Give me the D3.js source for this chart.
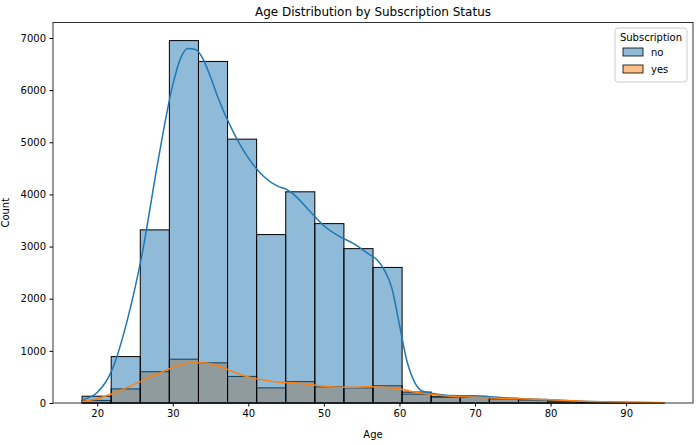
<!DOCTYPE html>
<html><head><meta charset="utf-8">
<script src="https://cdn.jsdelivr.net/npm/d3@7"></script>
<style>body{margin:0;background:#fff;font-family:"DejaVu Sans",sans-serif;}</style>
</head><body><svg id="c" width="700" height="445"></svg>
<script>
const binStart = 18, binEnd = 95, nBins = 20;
const countsNo  = [130, 890, 3320, 6950, 6550, 5060, 3230, 4050, 3440, 2960, 2600, 210, 130, 110, 80, 60, 40, 10, 5, 3];
const countsYes = [50, 270, 600, 840, 770, 510, 290, 410, 310, 290, 330, 170, 110, 110, 90, 70, 40, 10, 5, 3];
const kdeNo = [[18,60],[20,200],[22,650],[24,1600],[26,2900],[28,4600],[30,6100],[31,6600],[32,6800],[33,6780],[34,6600],[35,6250],[36,5850],[38,5200],[40,4700],[42,4350],[44,4150],[45,4100],[46,4000],[48,3700],[50,3400],[52,3200],[54,3050],[56,2850],[57,2750],[58,2550],[59,2200],[60,1500],[61,800],[62,400],[63,230],[65,170],[68,140],[70,140],[72,120],[75,90],[80,60],[85,30],[90,12],[95,5]];
const kdeYes = [[18,30],[20,80],[22,180],[24,300],[26,430],[28,560],[30,680],[32,760],[34,770],[36,710],[38,600],[40,500],[42,440],[44,400],[46,390],[48,360],[50,320],[52,300],[54,300],[56,310],[58,300],[60,270],[62,210],[64,170],[66,140],[70,110],[75,85],[80,60],[85,30],[90,12],[95,5]];
const xTicks = [20,30,40,50,60,70,80,90];
const yTicks = [0,1000,2000,3000,4000,5000,6000,7000];

const svg = d3.select("#c");
const m = {l:53, r:693, t:22.5, b:403};
const x = d3.scaleLinear().domain([14.15, 98.85]).range([m.l, m.r]);
const y = d3.scaleLinear().domain([0, 7297]).range([m.b, m.t]);
const w = (binEnd-binStart)/nBins;
const cBlue = "#1f77b4", cOrange = "#ff7f0e";

function bars(data, color){
  svg.append("g").selectAll("rect").data(data).join("rect")
    .attr("x",(d,i)=>x(binStart+i*w)).attr("width",(d,i)=>x(binStart+(i+1)*w)-x(binStart+i*w))
    .attr("y",d=>y(d)).attr("height",d=>y(0)-y(d))
    .attr("fill",color).attr("fill-opacity",0.5).attr("stroke","#000").attr("stroke-width",1);
}
bars(countsYes, cOrange);
bars(countsNo, cBlue);
const line = d3.line().x(d=>x(d[0])).y(d=>y(d[1])).curve(d3.curveMonotoneX);
svg.append("path").attr("d",line(kdeNo)).attr("fill","none").attr("stroke",cBlue).attr("stroke-width",1.5);
svg.append("path").attr("d",line(kdeYes)).attr("fill","none").attr("stroke",cOrange).attr("stroke-width",1.5);

svg.append("g").attr("transform",`translate(0,${m.b})`).call(d3.axisBottom(x).tickValues(xTicks).tickFormat(d3.format("d")).tickSizeOuter(0).tickSize(3.5).tickPadding(3.5))
  .call(g=>g.selectAll("text").attr("font-size",10).attr("fill","#000").attr("font-family","DejaVu Sans"));
svg.append("g").attr("transform",`translate(${m.l},0)`).call(d3.axisLeft(y).tickValues(yTicks).tickFormat(d3.format("d")).tickSizeOuter(0).tickSize(3.5).tickPadding(3.5))
  .call(g=>g.selectAll("text").attr("font-size",10).attr("fill","#000").attr("font-family","DejaVu Sans"));
svg.selectAll(".domain").remove();
svg.append("rect").attr("x",m.l).attr("y",m.t).attr("width",m.r-m.l).attr("height",m.b-m.t).attr("fill","none").attr("stroke","#000").attr("stroke-width",0.8);
svg.append("text").attr("x",(m.l+m.r)/2).attr("y",16).attr("text-anchor","middle").attr("font-size",12).text("Age Distribution by Subscription Status");
svg.append("text").attr("x",(m.l+m.r)/2).attr("y",438).attr("text-anchor","middle").attr("font-size",10).text("Age");
svg.append("text").attr("transform",`translate(9,${(m.t+m.b)/2}) rotate(-90)`).attr("text-anchor","middle").attr("font-size",10).text("Count");

const lg = svg.append("g").attr("transform","translate(615,28)");
lg.append("rect").attr("width",72).attr("height",54).attr("rx",3).attr("fill","#fff").attr("fill-opacity",0.8).attr("stroke","#ccc");
lg.append("text").attr("x",36).attr("y",13).attr("text-anchor","middle").attr("font-size",10).text("Subscription");
[["no",cBlue],["yes",cOrange]].forEach((d,i)=>{
  lg.append("rect").attr("x",8).attr("y",20+i*17).attr("width",20).attr("height",8).attr("fill",d[1]).attr("fill-opacity",0.5).attr("stroke","#000").attr("stroke-width",0.8);
  lg.append("text").attr("x",36).attr("y",28+i*17).attr("font-size",10).text(d[0]);
});
</script></body></html>
